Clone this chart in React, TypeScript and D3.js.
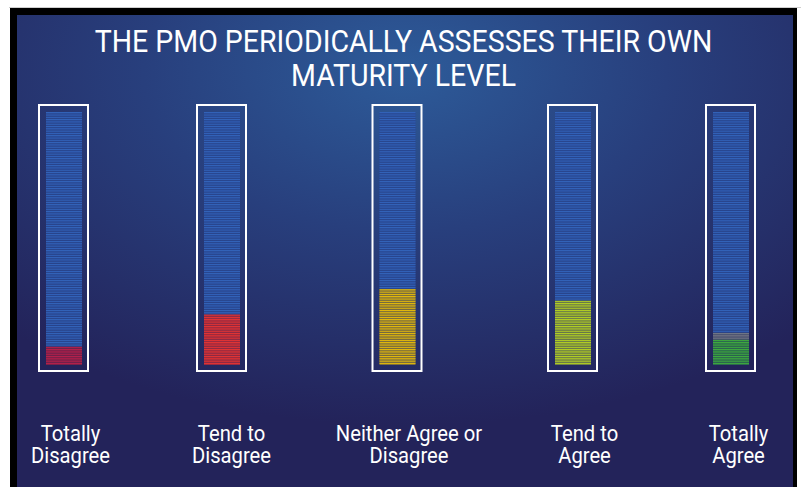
import React from "react";
import * as d3 from "d3";

const titleLines = ["THE PMO PERIODICALLY ASSESSES THEIR OWN", "MATURITY LEVEL"];
const categories = ["Totally Disagree", "Tend to Disagree", "Neither Agree or Disagree", "Tend to Agree", "Totally Agree"];
const labelLines = [
  ["Totally", "Disagree"],
  ["Tend to", "Disagree"],
  ["Neither Agree or", "Disagree"],
  ["Tend to", "Agree"],
  ["Totally", "Agree"],
];
const values = [7, 20, 30, 25.5, 10];
const blendValues = [0, 0, 0, 0, 3];
const fillColors = ["#b3204c", "#e03434", "#e0b70c", "#b0cc24", "#3ea83e"];
const gapColors = ["#7a2148", "#9a2a40", "#7d6f3c", "#6f7f48", "#2c6a4e"];

const W = 801;
const H = 487;

export default function App() {
  const innerTop = 112;
  const innerBottom = 365;
  const y = d3.scaleLinear().domain([0, 100]).range([innerBottom, innerTop]);
  const idx = d3.range(categories.length);
  const x = d3.scaleLinear().domain([0, 1, 3, 4]).range([63.5, 221.5, 572.5, 730.5]);
  const labelOffset = [7, 10, 12, 12, 8];
  const outerW = 49;
  const innerW = 36;
  const nStripes = 110;
  const step = 100 / nStripes;
  const stripes = d3.range(nStripes).map((i) => i * step);

  return (
    <svg width={W} height={H} style={{ position: "absolute", left: 0, top: 0, display: "block" }}>
      <defs>
        <radialGradient id="bg" cx="0.5" cy="0.12" r="0.75" fx="0.5" fy="0.12">
          <stop offset="0" stopColor="#2d5b99" />
          <stop offset="0.45" stopColor="#283f7d" />
          <stop offset="1" stopColor="#23235a" />
        </radialGradient>
      </defs>
      <rect x={0} y={0} width={W} height={H} fill="#ffffff" />
      <line x1={9} x2={W} y1={7.5} y2={7.5} stroke="#cfcfcf" strokeWidth={1} />
      <rect x={10} y={8} width={787} height={H - 8} fill="#000000" />
      <rect x={17} y={15} width={776} height={H - 15} fill="url(#bg)" />

      {titleLines.map((t, i) => (
        <g key={i} transform={`translate(403.5,${52 + i * 34}) scale(0.92,1)`}>
          <text
            x={0}
            y={0}
            textAnchor="middle"
            fill="#ffffff"
            fontFamily="Roboto, 'Noto Sans', sans-serif"
            fontSize={31}
          >
            {t}
          </text>
        </g>
      ))}

      {idx.map((i) => {
        const cx = x(i);
        const ox = cx - outerW / 2;
        const ix = ox + 7;
        const fillTop = y(values[i]);
        const blendTop = y(values[i] + blendValues[i]);
        return (
          <g key={categories[i]}>
            {stripes.map((v, k) => {
              const yTop = y(v + step);
              const yBot = y(v);
              const mid = (yTop + yBot) / 2;
              let bright = "#3262b8";
              let gap = "#28468f";
              if (mid >= fillTop) {
                bright = fillColors[i];
                gap = gapColors[i];
              } else if (mid >= blendTop) {
                bright = "#6f7584";
                gap = "#4d5370";
              }
              return (
                <g key={k}>
                  <rect x={ix} y={yTop} width={innerW} height={yBot - yTop} fill={gap} />
                  <rect x={ix} y={yTop} width={innerW} height={(yBot - yTop) * 0.55} fill={bright} />
                </g>
              );
            })}
            <rect
              x={ox}
              y={105}
              width={outerW}
              height={266}
              fill="none"
              stroke="#ffffff"
              strokeWidth={2}
            />
            {labelLines[i].map((l, j) => (
              <g key={j} transform={`translate(${cx + labelOffset[i]},${441 + j * 22}) scale(0.94,1)`}>
                <text
                  x={0}
                  y={0}
                  textAnchor="middle"
                  fill="#ffffff"
                  fontFamily="Roboto, 'Noto Sans', sans-serif"
                  fontSize={21.5}
                >
                  {l}
                </text>
              </g>
            ))}
          </g>
        );
      })}
    </svg>
  );
}
